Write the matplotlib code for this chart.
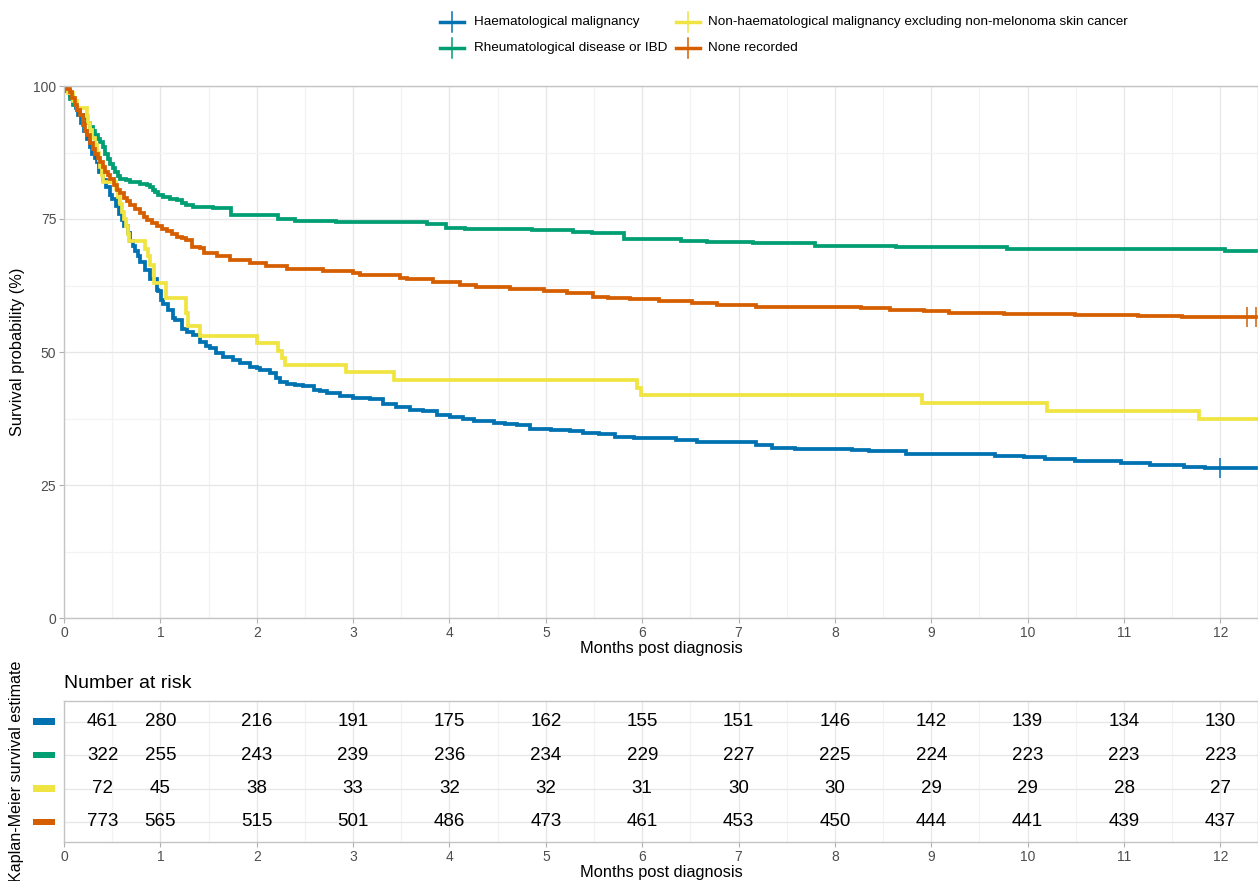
import matplotlib
matplotlib.use("Agg")
import matplotlib.pyplot as plt
import numpy as np
from matplotlib.lines import Line2D
from matplotlib.patches import Rectangle
import matplotlib.transforms as mtransforms

plt.rcParams['font.family'] = ['Liberation Sans', 'DejaVu Sans']

# ---------------- data ----------------
groups = ["Haematological malignancy", "Rheumatological disease or IBD",
          "Non-haematological malignancy excluding non-melonoma skin cancer", "None recorded"]
colors = ["#0072B2", "#009E73", "#F0E442", "#D55E00"]

haem_t = [0, 0.03, 0.06, 0.09, 0.12, 0.15, 0.18, 0.21, 0.24, 0.27, 0.29, 0.32, 0.34, 0.36, 0.40,
          0.44, 0.48, 0.50, 0.54, 0.57, 0.60, 0.62, 0.66, 0.69, 0.72, 0.74, 0.77, 0.79, 0.84, 0.89,
          0.96, 0.98, 1.01, 1.03, 1.08, 1.13, 1.15, 1.22, 1.28, 1.34, 1.41, 1.47, 1.52, 1.58, 1.65,
          1.75, 1.83, 1.93, 2.00, 2.03, 2.14, 2.20, 2.24, 2.31, 2.40, 2.48, 2.59, 2.66, 2.73, 2.86,
          3.00, 3.18, 3.31, 3.45, 3.59, 3.73, 3.87, 4.01, 4.14, 4.25, 4.46, 4.58, 4.70, 4.84, 5.05,
          5.25, 5.39, 5.55, 5.72, 5.91, 6.35, 6.57, 6.87, 7.18, 7.35, 7.59, 8.18, 8.35, 8.74, 9.66,
          9.96, 10.18, 10.49, 10.97, 11.27, 11.62, 11.84, 12.5]
haem_s = [100, 99.0, 98.2, 97.0, 95.8, 94.5, 93.0, 91.5, 90.0, 88.5, 87.3, 86.4, 85.7, 83.8, 82.3,
          81.1, 79.6, 78.8, 77.4, 76.0, 74.8, 73.6, 72.3, 70.8, 70.0, 68.9, 68.0, 67.0, 65.4, 63.8,
          61.7, 61.4, 59.8, 59.1, 57.9, 56.3, 56.0, 54.4, 53.8, 53.2, 51.9, 51.2, 50.7, 49.9, 49.1,
          48.5, 47.9, 47.2, 46.9, 46.6, 46.0, 45.2, 44.4, 44.0, 43.8, 43.6, 42.9, 42.6, 42.2, 41.7,
          41.3, 41.1, 40.2, 39.7, 39.1, 38.9, 38.2, 37.7, 37.4, 37.1, 36.6, 36.5, 36.3, 35.5, 35.3,
          35.1, 34.7, 34.5, 34.1, 33.8, 33.5, 33.1, 33.0, 32.5, 32.0, 31.8, 31.6, 31.3, 30.9, 30.5,
          30.2, 29.8, 29.5, 29.2, 28.8, 28.4, 28.2, 28.2]

rheum_t = [0, 0.03, 0.06, 0.09, 0.13, 0.17, 0.20, 0.24, 0.27, 0.30, 0.32, 0.35, 0.37, 0.40, 0.43,
           0.46, 0.48, 0.51, 0.53, 0.56, 0.58, 0.64, 0.69, 0.79, 0.86, 0.89, 0.92, 0.94, 0.98, 1.03,
           1.10, 1.17, 1.22, 1.27, 1.34, 1.55, 1.73, 2.22, 2.40, 2.82, 3.77, 3.96, 4.16, 4.86, 5.28,
           5.48, 5.81, 6.40, 6.67, 7.15, 7.79, 8.63, 9.79, 12.05, 12.5]
rheum_s = [100, 99.0, 97.5, 96.5, 95.5, 94.5, 93.9, 93.0, 92.3, 91.5, 90.7, 90.0, 89.5, 88.5, 87.3,
           86.3, 85.4, 84.5, 83.8, 83.0, 82.6, 82.3, 82.0, 81.6, 81.3, 81.0, 80.5, 80.1, 79.6, 79.1,
           78.8, 78.5, 78.0, 77.7, 77.3, 77.0, 75.8, 75.0, 74.7, 74.4, 74.1, 73.4, 73.1, 72.9, 72.6,
           72.3, 71.3, 70.9, 70.7, 70.4, 70.0, 69.7, 69.4, 69.0, 69.0]

nonhaem_t = [0, 0.04, 0.09, 0.14, 0.24, 0.25, 0.27, 0.29, 0.32, 0.34, 0.36, 0.37, 0.39, 0.40,
             0.54, 0.56, 0.58, 0.60, 0.62, 0.64, 0.66, 0.67, 0.84, 0.87, 0.89, 0.93, 1.06, 1.27,
             1.29, 1.41, 2.00, 2.22, 2.26, 2.29, 2.93, 3.42, 5.95, 5.99, 8.90, 10.20, 11.78, 12.5]
nonhaem_s = [100, 98.6, 97.2, 95.8, 94.4, 93.1, 91.7, 90.3, 88.9, 87.5, 86.1, 84.7, 83.3, 81.9,
             80.6, 79.2, 77.8, 76.4, 75.0, 73.6, 72.2, 70.8, 69.4, 68.1, 66.4, 62.9, 60.1, 57.3,
             54.8, 53.0, 51.6, 50.1, 48.9, 47.6, 46.2, 44.7, 43.2, 41.9, 40.5, 39.0, 37.5, 37.5]

none_t = [0, 0.03, 0.06, 0.08, 0.11, 0.14, 0.17, 0.20, 0.22, 0.24, 0.27, 0.30, 0.32, 0.35, 0.37,
          0.40, 0.43, 0.46, 0.48, 0.52, 0.55, 0.58, 0.62, 0.65, 0.69, 0.74, 0.79, 0.83, 0.86, 0.91,
          0.96, 1.02, 1.07, 1.12, 1.17, 1.22, 1.27, 1.33, 1.41, 1.45, 1.59, 1.72, 1.93, 2.10, 2.31,
          2.69, 3.00, 3.07, 3.49, 3.56, 3.83, 4.11, 4.28, 4.63, 4.98, 5.22, 5.49, 5.65, 5.87, 6.17,
          6.52, 6.78, 7.18, 8.27, 8.57, 8.92, 9.18, 9.75, 10.49, 10.64, 11.14, 11.60, 12.5]
none_s = [100, 99.5, 98.9, 97.8, 96.4, 95.5, 94.5, 92.6, 91.6, 90.7, 89.2, 88.2, 87.3, 86.5, 85.7,
          84.8, 83.8, 83.2, 82.5, 81.4, 80.5, 79.8, 78.9, 78.3, 77.6, 76.9, 76.1, 75.4, 74.8, 74.2,
          73.6, 73.1, 72.7, 72.2, 71.7, 71.4, 71.1, 69.8, 69.5, 68.6, 68.0, 67.3, 66.8, 66.2, 65.6,
          65.2, 64.9, 64.4, 64.0, 63.7, 63.2, 62.6, 62.3, 61.8, 61.4, 61.0, 60.4, 60.1, 59.9, 59.5,
          59.2, 58.8, 58.5, 58.2, 57.9, 57.7, 57.4, 57.2, 57.0, 56.9, 56.8, 56.6, 56.6]

# censor marks (time, survival)
haem_cens_t = [12.0]
haem_cens_s = [28.2]
none_cens_t = [12.28, 12.37]
none_cens_s = [56.6, 56.6]

risk_times = [0.4, 1, 2, 3, 4, 5, 6, 7, 8, 9, 10, 11, 12]
risk_haem = [461, 280, 216, 191, 175, 162, 155, 151, 146, 142, 139, 134, 130]
risk_rheum = [322, 255, 243, 239, 236, 234, 229, 227, 225, 224, 223, 223, 223]
risk_nonhaem = [72, 45, 38, 33, 32, 32, 31, 30, 30, 29, 29, 28, 27]
risk_none = [773, 565, 515, 501, 486, 473, 461, 453, 450, 444, 441, 439, 437]

x_ticks = list(range(0, 13))
y_ticks = [0, 25, 50, 75, 100]

# ---------------- figure ----------------
W, H = 1258, 881
fig = plt.figure(figsize=(W / 100, H / 100), dpi=100)

def fx(px):
    return px / W

def fy(py):
    return 1 - py / H

ax = fig.add_axes([fx(64), fy(618), fx(1258 - 64), (618 - 86) / H])
axr = fig.add_axes([fx(64), fy(842), fx(1258 - 64), (842 - 701) / H])

grid_major = "#e6e6e6"
grid_minor = "#f3f3f3"
spine_c = "#c4c4c4"

for a in (ax, axr):
    a.set_xlim(0, 12.39)
    a.set_xticks(x_ticks)
    a.set_xticks(np.arange(0.5, 12.5, 1.0), minor=True)
    a.grid(which="major", color=grid_major, lw=0.9)
    a.grid(which="minor", color=grid_minor, lw=0.9)
    a.set_axisbelow(True)
    for s in a.spines.values():
        s.set_color(spine_c)
        s.set_linewidth(1.0)
    a.tick_params(which="major", length=3.5, width=0.8, color="#b0b0b0",
                  labelsize=10, labelcolor="#4d4d4d", pad=2)
    a.tick_params(which="minor", length=0)

# main KM curves
series = [(haem_t, haem_s), (rheum_t, rheum_s), (nonhaem_t, nonhaem_s), (none_t, none_s)]
for (t, s), c in zip(series, colors):
    ax.step(t, s, where="post", color=c, lw=2.7, solid_joinstyle="miter")

ax.plot(haem_cens_t, haem_cens_s, ls="none", marker="|", ms=14, mew=1.1, color=colors[0])
ax.plot(none_cens_t, none_cens_s, ls="none", marker="|", ms=14, mew=1.1, color=colors[3])

ax.set_ylim(0, 100)
ax.set_yticks(y_ticks)
ax.set_yticks([12.5, 37.5, 62.5, 87.5], minor=True)
ax.set_xlabel("Months post diagnosis", fontsize=11.8, labelpad=1)
ax.set_ylabel("Survival probability (%)", fontsize=11.8, labelpad=6)

# ---------------- risk table ----------------
rows = [risk_haem, risk_rheum, risk_nonhaem, risk_none]
row_y = [4, 3, 2, 1]
axr.set_ylim(0.4, 4.62)
axr.set_yticks(row_y)
axr.set_yticklabels([])
axr.tick_params(axis="y", length=0)
axr.grid(axis="y", which="major", color=grid_major, lw=0.9)
for vals, yv, c in zip(rows, row_y, colors):
    for tt, v in zip(risk_times, vals):
        axr.text(tt, yv, str(v), ha="center", va="center", fontsize=13.5, color="black")
    trans = mtransforms.blended_transform_factory(axr.transAxes, axr.transData)
    axr.add_patch(Rectangle((-0.026, yv - 0.1), 0.0185, 0.2, transform=trans,
                            color=c, clip_on=False, lw=0))

axr.set_xlabel("Months post diagnosis", fontsize=11.8, labelpad=1)
axr.set_ylabel("Kaplan-Meier survival estimate", fontsize=11.6, labelpad=27)
fig.text(fx(64), fy(683), "Number at risk", fontsize=14, ha="left", va="center")

# ---------------- legend (manual) ----------------
leg_x = [452, 688]
leg_text_x = [474, 708]
leg_y = [22, 48]
for i, (g, c) in enumerate(zip(groups, colors)):
    col, row = i // 2, i % 2
    cx, cy = leg_x[col], leg_y[row]
    fig.add_artist(Line2D([fx(cx - 12), fx(cx + 12)], [fy(cy), fy(cy)],
                          transform=fig.transFigure, color=c, lw=2.5))
    fig.add_artist(Line2D([fx(cx), fx(cx)], [fy(cy - 10), fy(cy + 10)],
                          transform=fig.transFigure, color=c, lw=1.1))
    fig.text(fx(leg_text_x[col]), fy(cy), g, fontsize=9.7, ha="left", va="center")

fig.savefig("out.png", dpi=100)
